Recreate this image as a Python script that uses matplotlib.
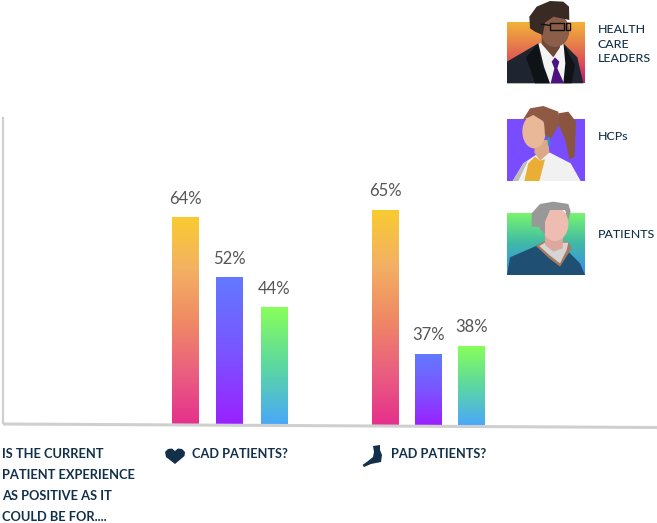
import numpy as np
import matplotlib
matplotlib.use("Agg")
import matplotlib.pyplot as plt
from matplotlib.colors import LinearSegmentedColormap
from matplotlib.patches import Polygon, Ellipse, Rectangle

plt.rcParams['font.family'] = ['Lato', 'DejaVu Sans']

# data
groups = ["CAD PATIENTS?", "PAD PATIENTS?"]
series = ["HEALTH\nCARE\nLEADERS", "HCPs", "PATIENTS"]
labels_cad = [64, 52, 44]
labels_pad = [65, 37, 38]
# the drawn bars are not proportional to their labels, so heights are kept apart
heights_cad = [208, 148, 118]
heights_pad = [215, 71, 79]
question = ["IS THE CURRENT", "PATIENT EXPERIENCE", "AS POSITIVE AS IT", "COULD BE FOR...."]

navy = "#12304a"
grads = [
    ["#f9cb30", "#f3b163", "#f08a64", "#ea5f80", "#e6308c"],
    ["#6279ff", "#7a55ff", "#9a20ff"],
    ["#88ff5a", "#5cd8a0", "#4aa8fa"],
]
icon_grads = [
    ["#f2b338", "#e8824a", "#dc5058", "#b81c6c"],
    ["#7a4cff", "#7a4cff"],
    ["#78f46e", "#3fb8a8", "#3a8cf0"],
]


def gradient(ax, extent, colors, clip=None):
    cmap = LinearSegmentedColormap.from_list("g", colors)
    im = ax.imshow(np.linspace(0, 1, 256).reshape(-1, 1), cmap=cmap, aspect="auto",
                   extent=extent, origin="upper", zorder=2)
    if clip is not None:
        im.set_clip_path(clip)


fig = plt.figure(figsize=(6.57, 5.23), dpi=100)

# bars: y is height above the baseline
ax = fig.add_axes([0, 0, 1, 1])
base = 425
group_x = [229.5, 428.5]
group_off = [[-44, 0, 45], [-43, 0, 43]]
bar_w = 27
for gx, offsets, labs, hs in zip(group_x, group_off, [labels_cad, labels_pad], [heights_cad, heights_pad]):
    for off, lab, h, cols in zip(offsets, labs, hs, grads):
        b = ax.bar(gx + off, h, width=bar_w, color="none", zorder=1)[0]
        gradient(ax, (gx + off - bar_w / 2, gx + off + bar_w / 2, 0, h), cols, clip=b)
        ax.text(gx + off, h + 18.5, f"{lab}%", ha="center", va="center", fontsize=12,
                color="#555555")
ax.set_xlim(0, 657)
ax.set_ylim(base - 523, base)
ax.axis("off")

# everything else in picture pixels
ov = fig.add_axes([0, 0, 1, 1])
ov.patch.set_alpha(0)
ov.plot([3, 3], [117, 424], color="#cfcfcf", lw=1.6, solid_capstyle="butt")
ov.plot([3, 657], [424, 427.5], color="#cfcfcf", lw=2.2, solid_capstyle="butt")


def shape(pts, color, ox=500, oy=0, z=5):
    # points as measured on the 3x crop of the legend
    ov.add_patch(Polygon([(x / 3 + ox, y / 3 + oy) for x, y in pts], closed=True, fc=color, ec="none", zorder=z))


def oval(cx, cy, w, h, color, z=5):
    ov.add_patch(Ellipse((cx / 3 + 500, cy / 3), w / 3, h / 3, fc=color, ec="none", zorder=z))


# legend tiles
for (top, bottom), cols in zip([(22, 83), (119, 181), (213, 275)], icon_grads):
    gradient(ov, (507, 585, bottom, top), cols)

# leader
shape([(21, 185), (115, 130), (190, 130), (232, 172), (250, 250), (21, 250)], "#1f2530")
shape([(78, 172), (115, 130), (125, 190), (150, 250), (105, 250)], "#0f1318", z=6)
shape([(190, 130), (225, 195), (215, 250), (190, 250)], "#0f1318", z=6)
shape([(115, 130), (190, 125), (196, 190), (190, 250), (150, 250), (132, 200)], "#f4f4f4", z=7)
shape([(155, 185), (165, 172), (178, 185), (172, 205), (192, 250), (152, 250), (163, 205)], "#4b1280", z=8)
shape([(125, 100), (178, 110), (180, 142), (160, 172), (125, 132)], "#6f4838", z=7)
oval(165, 92, 86, 98, "#8a5e48", z=7)
shape([(90, 85), (88, 50), (110, 20), (150, 3), (190, 5), (207, 20), (208, 60), (160, 50), (135, 68),
       (128, 105), (105, 95)], "#3a2a24", z=8)
ov.add_patch(Rectangle((500 + 150 / 3, 68 / 3), 42 / 3, 22 / 3, fc="none", ec="#111111", lw=1, zorder=9))
ov.add_patch(Rectangle((500 + 197 / 3, 68 / 3), 12 / 3, 22 / 3, fc="none", ec="#111111", lw=1, zorder=9))
ov.plot([500 + 125 / 3, 500 + 150 / 3], [73 / 3, 76 / 3], color="#111111", lw=1, zorder=9)

# hcp
shape([(38, 543), (70, 490), (118, 458), (150, 458), (212, 490), (242, 543)], "#f1f1f1")
shape([(38, 543), (70, 490), (85, 480), (55, 543)], "#bdbdbd", z=6)
shape([(73, 543), (85, 490), (105, 470), (120, 482), (135, 478), (118, 543)], "#e9ae33", z=6)
shape([(105, 420), (145, 420), (148, 458), (120, 482), (103, 458)], "#dca988", z=7)
oval(102, 395, 70, 100, "#e8b898", z=8)
shape([(65, 365), (90, 325), (130, 318), (175, 335), (180, 370), (150, 420), (135, 405), (132, 365),
       (100, 345), (70, 360)], "#8f5a43", z=9)
shape([(175, 340), (205, 335), (228, 365), (224, 470), (208, 478), (196, 420), (178, 380)], "#8a5540", z=6)
shape([(142, 412), (150, 410), (152, 436), (144, 438)], "#2f8fc4", z=9)

# patient
shape([(21, 825), (30, 772), (115, 735), (185, 735), (240, 790), (255, 825)], "#1f5073")
shape([(108, 738), (130, 725), (205, 725), (215, 745), (180, 800), (148, 775)], "#a67a5e", z=6)
shape([(118, 738), (135, 728), (205, 728), (200, 750), (180, 790), (148, 765)], "#d5d5d5", z=7)
shape([(135, 690), (190, 690), (188, 745), (160, 755), (135, 735)], "#dca79c", z=8)
oval(165, 672, 80, 102, "#eebcb0", z=8)
shape([(95, 680), (95, 640), (120, 612), (160, 605), (205, 612), (212, 635), (205, 660), (195, 630),
       (150, 630), (135, 665), (135, 705), (115, 680)], "#989898", z=9)

for txt, y in [(series[0], 44), (series[1], 137), (series[2], 234)]:
    ov.text(598, y, txt, ha="left", va="center", fontsize=8.9, color="#12304a", linespacing=1.42,
            fontweight="medium", zorder=10)

# question and group names
for i, line in enumerate(question):
    ov.text(2, 454 + i * 21, line, ha="left", va="center", fontsize=9.3, color=navy, fontweight="bold")
ov.text(192, 454, groups[0], ha="left", va="center", fontsize=9.2, color=navy, fontweight="bold")
ov.text(391, 454, groups[1], ha="left", va="center", fontsize=9.2, color=navy, fontweight="bold")

# heart icon
ov.add_patch(Polygon([(165, 452), (168, 449), (172, 448.5), (175, 451), (178, 448.5), (182, 449), (185, 452),
                      (184.5, 456), (175, 464), (166, 457)], closed=True, fc=navy, ec="none"))
# foot icon
ov.add_patch(Polygon([(373, 446), (380, 445), (380, 450), (382, 455), (381, 462), (371, 464), (364, 467),
                      (362.5, 465), (368, 461), (373, 457), (374, 452)], closed=True, fc=navy, ec="none"))

ov.set_xlim(0, 657)
ov.set_ylim(523, 0)
ov.axis("off")

fig.savefig("out.png", dpi=100)
